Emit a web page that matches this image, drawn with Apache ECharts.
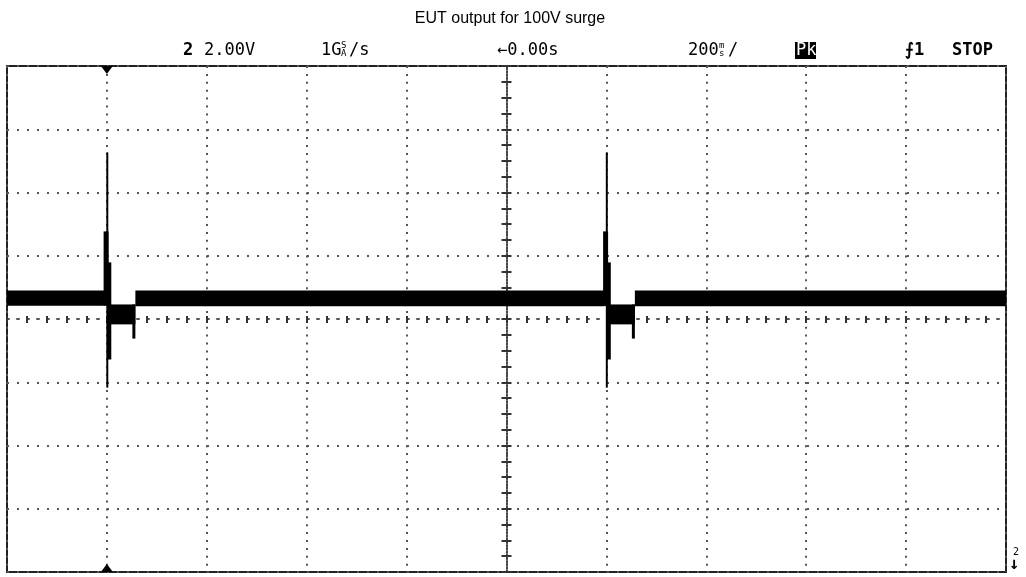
<!DOCTYPE html>
<html>
<head>
<meta charset="utf-8">
<script src="https://cdn.jsdelivr.net/npm/echarts@6/dist/echarts.min.js"></script>
<style>html,body{margin:0;padding:0;background:#fff;}#c{width:1026px;height:577px;}</style>
</head>
<body>
<div id="c"></div>
<script>
// Time axis: seconds (200 ms/div), voltage axis: volts (2.00 V/div)
const xMin = -1, xMax = 1, xStep = 0.2;
const yMin = -8, yMax = 8, yStep = 2;
const triggerTime = -0.8;

// Peak-detect envelope segments: [start time, end time, low V, high V]
const segStart = [-1.0,   -0.8066, -0.8012, -0.7992, -0.7972, -0.7490, -0.7430,
                   0.1968, 0.1934, 0.1988, 0.2008, 0.2028, 0.2510, 0.2570];
const segEnd   = [-0.8032, -0.7966, -0.7972, -0.7912, -0.7430, -0.7430, 0.1968,
                   0.1966, 0.2034, 0.2028, 0.2088, 0.2570, 0.2570, 1.0];
const segLow   = [0.42,  0.42, -2.17, -1.28, -0.17, -0.62, 0.40,
                  0.42,  0.42, -2.17, -1.28, -0.17, -0.62, 0.40];
const segHigh  = [0.90,  2.77,  5.27,  1.79,  0.46,  0.46, 0.90,
                  0.90,  2.77,  5.27,  1.79,  0.46,  0.46, 0.90];

const headerTitle = 'EUT output for 100V surge';

const data = segStart.map((s, i) => [s, segEnd[i], segLow[i], segHigh[i]]);

const chart = echarts.init(document.getElementById('c'), null, {renderer: 'canvas'});
const dotColor = '#555';
const mono = 'DejaVu Sans Mono';

chart.setOption({
  animation: false,
  backgroundColor: '#fff',
  title: {
    text: headerTitle, left: 505, top: 6, textAlign: 'center',
    textStyle: {fontFamily: 'Liberation Sans, Arial', fontSize: 16, fontWeight: 'normal', color: '#000'}
  },
  grid: {left: 7, right: 20, top: 66, bottom: 5, show: true, borderColor: '#222', borderWidth: 2, backgroundColor: 'transparent'},
  xAxis: [{
    type: 'value', min: xMin, max: xMax, interval: xStep,
    axisLine: {show: true, onZero: true, lineStyle: {color: dotColor, width: 2, type: [2, 8]}},
    axisTick: {show: true, inside: false, length: 4, lineStyle: {color: '#333', width: 2}},
    minorTick: {show: true, splitNumber: 5, length: 4, lineStyle: {color: '#333', width: 2}},
    axisLabel: {show: false},
    splitLine: {show: true, lineStyle: {color: dotColor, width: 2, type: [2, 5.9]}}
  }, {
    type: 'value', min: xMin, max: xMax, interval: xStep, position: 'top',
    axisLine: {show: false, onZero: true},
    axisTick: {show: true, inside: false, length: 3, lineStyle: {color: '#333', width: 2}},
    minorTick: {show: true, splitNumber: 5, length: 3, lineStyle: {color: '#333', width: 2}},
    axisLabel: {show: false},
    splitLine: {show: false}
  }],
  yAxis: [{
    type: 'value', min: yMin, max: yMax, interval: yStep,
    axisLine: {show: true, onZero: true, lineStyle: {color: '#444', width: 2, type: [1.5, 1.7]}},
    axisTick: {show: true, inside: false, length: 5, lineStyle: {color: '#333', width: 2}},
    minorTick: {show: true, splitNumber: 4, length: 5, lineStyle: {color: '#333', width: 2}},
    axisLabel: {show: false},
    splitLine: {show: true, lineStyle: {color: dotColor, width: 2, type: [2, 8]}}
  }, {
    type: 'value', min: yMin, max: yMax, interval: yStep, position: 'right',
    axisLine: {show: false, onZero: true},
    axisTick: {show: true, inside: false, length: 5, lineStyle: {color: '#333', width: 2}},
    minorTick: {show: true, splitNumber: 4, length: 5, lineStyle: {color: '#333', width: 2}},
    axisLabel: {show: false},
    splitLine: {show: false}
  }],
  series: [{
    type: 'custom',
    clip: true,
    xAxisIndex: 0, yAxisIndex: 0,
    encode: {x: [0, 1], y: [2, 3]},
    data: data,
    renderItem: function (params, api) {
      const p0 = api.coord([api.value(0), api.value(3)]);
      const p1 = api.coord([api.value(1), api.value(2)]);
      return {
        type: 'rect',
        shape: {x: p0[0], y: p0[1], width: Math.max(p1[0] - p0[0], 1.5), height: p1[1] - p0[1]},
        style: {fill: '#000'}
      };
    },
    markPoint: {
      symbol: 'triangle', symbolSize: [12, 8], silent: true, label: {show: false},
      itemStyle: {color: '#000'},
      data: [
        {coord: [triggerTime, yMax], symbolRotate: 180, symbolOffset: [0, 4]},
        {coord: [triggerTime, yMin], symbolOffset: [0, -4]}
      ]
    }
  }],
  graphic: [
    {type: 'text', left: 183, top: 42, style: {text: '2', font: 'bold 17px ' + mono, fill: '#000'}},
    {type: 'text', left: 204, top: 42, style: {text: '2.00V', font: '17px ' + mono, fill: '#000'}},
    {type: 'text', left: 321, top: 42, style: {text: '1G', font: '17px ' + mono, fill: '#000'}},
    {type: 'text', left: 341, top: 41, style: {text: 'S', font: '9px ' + mono, fill: '#000'}},
    {type: 'text', left: 341, top: 49, style: {text: 'A', font: '9px ' + mono, fill: '#000'}},
    {type: 'text', left: 349, top: 42, style: {text: '/s', font: '17px ' + mono, fill: '#000'}},
    {type: 'text', left: 497, top: 42, style: {text: '←0.00s', font: '17px ' + mono, fill: '#000'}},
    {type: 'text', left: 688, top: 42, style: {text: '200', font: '17px ' + mono, fill: '#000'}},
    {type: 'text', left: 719, top: 41, style: {text: 'm', font: '9px ' + mono, fill: '#000'}},
    {type: 'text', left: 719, top: 49, style: {text: 's', font: '9px ' + mono, fill: '#000'}},
    {type: 'text', left: 728, top: 42, style: {text: '/', font: '17px ' + mono, fill: '#000'}},
    {type: 'rect', left: 795, top: 42, shape: {width: 21, height: 17}, style: {fill: '#000'}},
    {type: 'text', left: 796, top: 42, style: {text: 'Pk', font: '17px ' + mono, fill: '#fff'}},
    {type: 'text', left: 905, top: 42, style: {text: '⨍1', font: 'bold 17px ' + mono, fill: '#000'}},
    {type: 'text', left: 952, top: 42, style: {text: 'STOP', font: 'bold 17px ' + mono, fill: '#000'}},
    {type: 'text', left: 1013, top: 547, style: {text: '2', font: '10px ' + mono, fill: '#000'}},
    {type: 'text', left: 1009, top: 556, style: {text: '↓', font: 'bold 17px ' + mono, fill: '#000'}}
  ]
});
</script>
</body>
</html>
